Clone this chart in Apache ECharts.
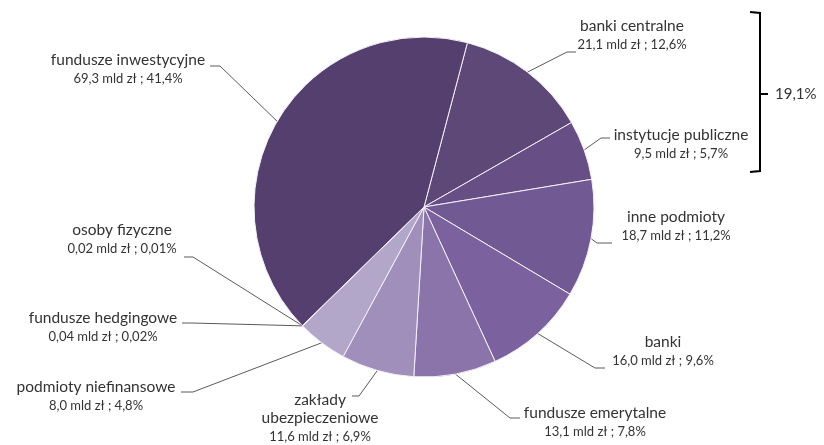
<!DOCTYPE html>
<html>
<head>
<meta charset="utf-8">
<script src="https://cdn.jsdelivr.net/npm/echarts@6/dist/echarts.min.js"></script>
<style>
  html, body { margin: 0; padding: 0; background: #fff; }
  #chart { width: 824px; height: 445px; }
</style>
</head>
<body>
<div id="chart"></div>
<script>
// dane - kolejnosc zgodnie z ruchem wskazowek zegara od gory
var categories = ['banki centralne', 'instytucje publiczne', 'inne podmioty', 'banki',
    'fundusze emerytalne', 'zakłady\nubezpieczeniowe', 'podmioty niefinansowe',
    'fundusze hedgingowe', 'osoby fizyczne', 'fundusze inwestycyjne'];
var values = [21.1, 9.5, 18.7, 16.0, 13.1, 11.6, 8.0, 0.04, 0.02, 69.3];   // mld zł
var shares = [12.6, 5.7, 11.2, 9.6, 7.8, 6.9, 4.8, 0.02, 0.01, 41.4];     // %
var bracketLabel = '19,1%';

var colors = ['#5e4878', '#674f86', '#715a93', '#7b619e', '#8a74aa', '#a08fba',
    '#b3a7c9', '#b8aecd', '#bdb3d0', '#553f6e'];

// polozenie etykiet (srodek bloku tekstu) i lamanie linii
var labelPos = [[632, 36], [681, 145], [676, 227], [663, 352], [595, 423],
    [320, 419], [96, 397], [103, 328], [122, 240], [128, 70]];
var elbows = [[567, 52], [601, 138], [597, 243], [595, 368], [510, 418],
    [359, 396], [193, 392], [192, 323], [193, 257], [220, 66]];
var ends = [[576, 52], [610, 138], [612, 243], [605, 368], [520, 418],
    [352, 396], [181, 392], [182, 323], [184, 257], [210, 66]];

function fmt(v) {
    return (v < 1 ? v.toFixed(2) : v.toFixed(1)).replace('.', ',');
}

var chart = echarts.init(document.getElementById('chart'));

var seriesData = categories.map(function (c, i) {
    return { name: c, value: values[i], itemStyle: { color: colors[i] } };
});

var option = {
    animation: false,
    textStyle: { fontFamily: 'Lato' },
    series: [{
        type: 'pie',
        center: [424, 207],
        radius: [0, 170],
        startAngle: 75.2,
        clockwise: true,
        avoidLabelOverlap: false,
        minAngle: 0,
        itemStyle: { borderColor: '#f4f0f8', borderWidth: 1 },
        data: seriesData,
        label: {
            show: true,
            position: 'outside',
            formatter: function (p) {
                var i = p.dataIndex;
                var lines = p.name.split('\n').map(function (s) { return '{n|' + s + '}'; });
                lines.push('{v|' + fmt(values[i]) + ' mld zł ; ' + fmt(shares[i]) + '%}');
                return lines.join('\n');
            },
            rich: {
                n: { fontFamily: 'Lato', fontSize: 15.5, color: '#333333', lineHeight: 18, align: 'center' },
                v: { fontFamily: 'Lato', fontSize: 13, color: '#333333', lineHeight: 20, align: 'center' }
            }
        },
        labelLine: {
            show: true,
            length: 5,
            length2: 5,
            lineStyle: { color: '#5a5a5a', width: 1 }
        },
        labelLayout: function (params) {
            var i = params.dataIndex;
            var start = params.labelLinePoints ? params.labelLinePoints[0] : elbows[i];
            return {
                x: labelPos[i][0],
                y: labelPos[i][1],
                align: 'center',
                verticalAlign: 'middle',
                labelLinePoints: [start, elbows[i], ends[i]]
            };
        }
    }],
    graphic: [
        {
            type: 'polyline',
            shape: { points: [[750, 12], [760, 13], [760, 171], [750, 172]] },
            style: { stroke: '#000', lineWidth: 2, fill: null }
        },
        {
            type: 'line',
            shape: { x1: 760, y1: 94, x2: 768, y2: 94 },
            style: { stroke: '#000', lineWidth: 2 }
        },
        {
            type: 'text',
            x: 775,
            y: 94,
            style: {
                text: bracketLabel,
                font: '15px Lato',
                fill: '#333333',
                verticalAlign: 'middle'
            }
        }
    ]
};

chart.setOption(option);
</script>
</body>
</html>
